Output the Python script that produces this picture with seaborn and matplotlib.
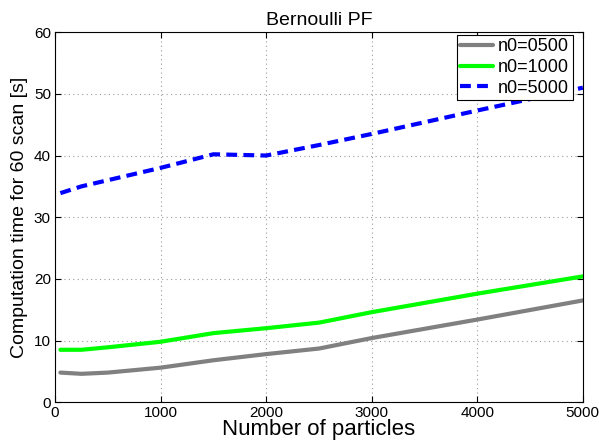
import numpy as np
import pandas as pd
import matplotlib
matplotlib.use("Agg")
import matplotlib.pyplot as plt
import seaborn as sns

# Number of particles evaluated
particles = [50, 250, 500, 1000, 1500, 2000, 2500, 3000, 4000, 5000]

# Computation time [s] for each initial birth count n0
time_n0_0500 = [4.8, 4.6, 4.8, 5.6, 6.8, 7.8, 8.7, 10.4, 13.4, 16.5]
time_n0_1000 = [8.5, 8.5, 8.9, 9.8, 11.2, 12.0, 12.9, 14.6, 17.6, 20.4]
time_n0_5000 = [33.9, 35.0, 36.0, 38.0, 40.2, 40.0, 41.7, 43.5, 47.3, 51.0]

series_labels = ["n0=0500", "n0=1000", "n0=5000"]

df = pd.concat([
    pd.DataFrame({"particles": particles, "time": t, "series": lab})
    for t, lab in zip([time_n0_0500, time_n0_1000, time_n0_5000], series_labels)
])

sns.set_theme(style="white")
plt.rcParams["font.family"] = ["Liberation Sans", "DejaVu Sans"]
plt.rcParams["text.color"] = "black"
plt.rcParams["axes.labelcolor"] = "black"

fig = plt.figure(figsize=(5.99, 4.41), dpi=100)
ax = fig.add_axes([0.092, 0.088, 0.881, 0.839])

palette = {"n0=0500": "#808080", "n0=1000": "#00ff00", "n0=5000": "#0000ff"}
dashes = {"n0=0500": "", "n0=1000": "", "n0=5000": (2.6, 1.5)}

sns.lineplot(data=df, x="particles", y="time", hue="series", style="series",
             palette=palette, dashes=dashes, linewidth=3, ax=ax,
             hue_order=series_labels, style_order=series_labels)

ax.set_xlim(0, 5000)
ax.set_ylim(0, 60)
ax.set_xticks(np.arange(0, 5001, 1000))
ax.set_yticks(np.arange(0, 61, 10))
ax.tick_params(direction="in", length=4, width=0.8, colors="black",
               labelsize=11, top=True, right=True, bottom=True, left=True, pad=3)
ax.grid(True, linestyle=(0, (1, 3)), color="#999999", linewidth=0.8)
for s in ax.spines.values():
    s.set_color("black")
    s.set_linewidth(0.8)

ax.set_title("Bernoulli PF", fontsize=14, pad=5, color="black")
ax.set_xlabel("Number of particles", fontsize=16, labelpad=-1, color="black")
ax.set_ylabel("Computation time for 60 scan [s]", fontsize=14, labelpad=4,
              color="black")

leg = ax.legend(loc="upper right", bbox_to_anchor=(0.981, 0.993), fontsize=13,
                frameon=True, fancybox=False, framealpha=1.0, handlelength=1.8,
                handletextpad=0.3, borderpad=0.2, labelspacing=0.2,
                borderaxespad=0.0)
leg.get_frame().set_edgecolor("black")
leg.get_frame().set_linewidth(0.8)
for t in leg.get_texts():
    t.set_color("black")
leg.set_title(None)

fig.savefig("out.png", dpi=100)
